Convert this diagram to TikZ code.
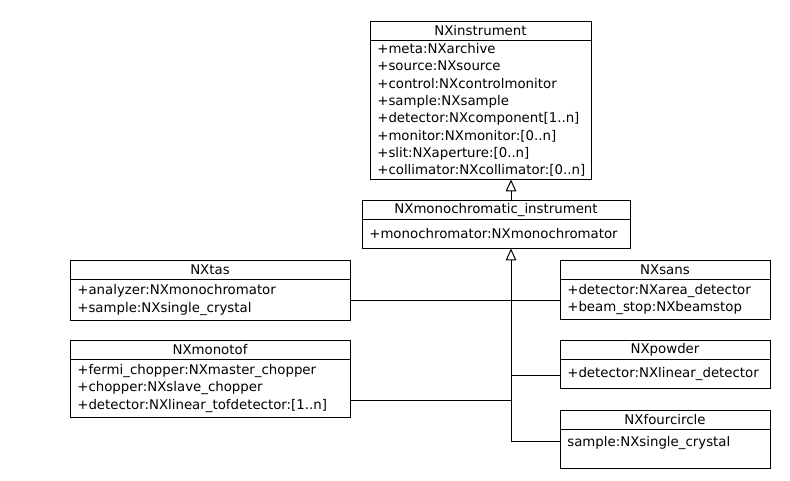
\documentclass[tikz,border=0pt]{standalone}
\usepackage{fontspec}
\setmainfont{DejaVu Sans}
\usetikzlibrary{positioning,arrows.meta}

\begin{document}
\begin{tikzpicture}
  [x=0.75pt,y=-0.75pt,line width=0.75pt,
   every node/.style={font=\fontsize{10}{13}\selectfont,outer sep=0pt},
   classname/.style={draw,anchor=north west,minimum height=14.6pt,inner sep=0pt},
   members/.style={draw,below=0pt of #1,align=left,inner xsep=5.5pt,inner ysep=1pt},
   inherit/.style={-{Triangle[open,width=8pt,length=9pt]}}]
  \useasboundingbox (0,0) rectangle (790,480);

  % base classes
  \node[classname,minimum width=165.75pt] (instr) at (370,21) {NXinstrument};
  \node[members=instr,text width=154.75pt,minimum height=104.25pt] (instrm)
    {+meta:NXarchive\\+source:NXsource\\+control:NXcontrolmonitor\\+sample:NXsample\\
     +detector:NXcomponent[1..n]\\+monitor:NXmonitor:[0..n]\\+slit:NXaperture:[0..n]\\
     +collimator:NXcollimator:[0..n]};

  \node[classname,minimum width=201pt] (mono) at (362,200) {NXmonochromatic\_instrument};
  \node[members=mono,text width=190pt,minimum height=21.75pt] (monom)
    {+monochromator:NXmonochromator};

  % left column
  \node[classname,minimum width=210pt] (tas) at (70,260) {NXtas};
  \node[members=tas,text width=199pt,minimum height=30.75pt] (tasm)
    {+analyzer:NXmonochromator\\+sample:NXsingle\_crystal};

  \node[classname,minimum width=210pt] (monotof) at (70,340) {NXmonotof};
  \node[members=monotof,text width=199pt,minimum height=43.5pt] (monotofm)
    {+fermi\_chopper:NXmaster\_chopper\\+chopper:NXslave\_chopper\\+detector:NXlinear\_tofdetector:[1..n]};

  % right column
  \node[classname,minimum width=157.5pt] (sans) at (560,260) {NXsans};
  \node[members=sans,text width=146.5pt,minimum height=30pt] (sansm)
    {+detector:NXarea\_detector\\+beam\_stop:NXbeamstop};

  \node[classname,minimum width=157.5pt] (powder) at (560,340) {NXpowder};
  \node[members=powder,text width=146.5pt,minimum height=21.75pt] (powderm)
    {+detector:NXlinear\_detector};

  \node[classname,minimum width=157.5pt] (fourcircle) at (560,410) {NXfourcircle};
  \node[members=fourcircle,text width=146.5pt,minimum height=29.25pt,text depth=12pt] (fourcirclem)
    {sample:NXsingle\_crystal};

  % inheritance
  \coordinate (t1) at (511,300);
  \coordinate (t2) at (511,375);
  \coordinate (t3) at (511,400);
  \coordinate (t4) at (511,441);

  \draw[inherit] (mono.north -| t1) -- (instrm.south -| t1);
  \draw[inherit] (t4) -- (monom.south -| t4);
  \draw (tasm.east |- t1) -- (sansm.west |- t1);
  \draw (monotofm.east |- t3) -- (t3);
  \draw (t2) -- (powderm.west |- t2);
  \draw (t4) -- (fourcirclem.west |- t4);
\end{tikzpicture}
\end{document}
